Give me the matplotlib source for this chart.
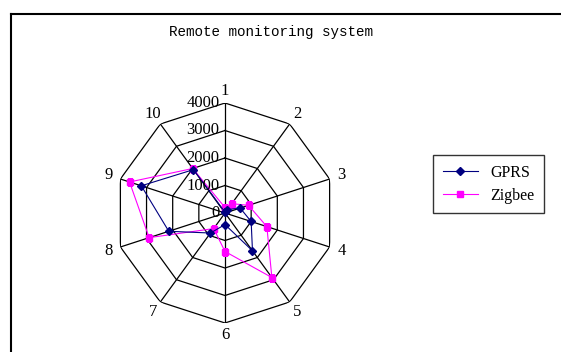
import numpy as np
import matplotlib.pyplot as plt
from matplotlib.lines import Line2D

# axes labels and values
categories = ['1', '2', '3', '4', '5', '6', '7', '8', '9', '10']
gprs = [30, 150, 580, 1000, 1700, 420, 900, 2150, 3200, 1950]
zigbee = [200, 420, 900, 1600, 2900, 1400, 700, 2900, 3650, 2000]
rings = [1000, 2000, 3000, 4000]
ring_labels = ['0', '1000', '2000', '3000', '4000']

n = len(categories)
angles = np.linspace(0, 2 * np.pi, n, endpoint=False)
closed = np.append(angles, angles[0])

fig = plt.figure(figsize=(5.61, 3.52), dpi=100)
W, H = 561, 352
cx, cy, rad = 225, 213, 110
ax = fig.add_axes([(cx - rad) / W, (H - cy - rad) / H, 2 * rad / W, 2 * rad / H],
                  projection='polar')
ax.set_theta_zero_location('N')
ax.set_theta_direction(-1)
ax.set_ylim(0, 4000)
ax.grid(False)
ax.spines['polar'].set_visible(False)
ax.set_xticks([])
ax.set_yticks([])
ax.patch.set_alpha(0)

# decagon grid
for r in rings:
    ax.plot(closed, [r] * (n + 1), color='black', lw=0.9, zorder=1)
for a in angles:
    ax.plot([a, a], [0, 4000], color='black', lw=0.9, zorder=1)

# series
ax.plot(closed, gprs + gprs[:1], color='#000080', lw=0.8, marker='D',
        markersize=3.8, label='GPRS', zorder=3)
ax.plot(closed, zigbee + zigbee[:1], color='#FF00FF', lw=0.8, marker='s',
        markersize=5, label='Zigbee', zorder=2)

serif = 'Liberation Serif'
for a, lab in zip(angles, categories):
    ax.text(a, 4450, lab, ha='center', va='center', fontsize=12, family=serif)

for r, lab in zip([0] + rings, ring_labels):
    ax.annotate(lab, xy=(0, r), xytext=(-4, 0), textcoords='offset points',
                ha='right', va='center', fontsize=12, family=serif)

fig.text(271 / W, 1 - 32 / H, 'Remote monitoring system', ha='center', va='center',
         fontsize=10.3, family='Liberation Mono')

leg = fig.legend(loc='upper left', bbox_to_anchor=(433 / W, 1 - 155 / H),
                 prop={'family': serif, 'size': 11.5}, frameon=True,
                 fancybox=False, borderpad=0.6, handlelength=2.2,
                 labelspacing=0.45, borderaxespad=0)
leg.get_frame().set_edgecolor('black')
leg.get_frame().set_linewidth(1.0)

# chart frame (top and left edges visible)
fig.add_artist(Line2D([10.5 / W, 10.5 / W], [0, 1 - 14 / H], color='black', lw=1.5))
fig.add_artist(Line2D([10.5 / W, 1], [1 - 14 / H, 1 - 14 / H], color='black', lw=1.5))

fig.savefig('out.png', dpi=100)
